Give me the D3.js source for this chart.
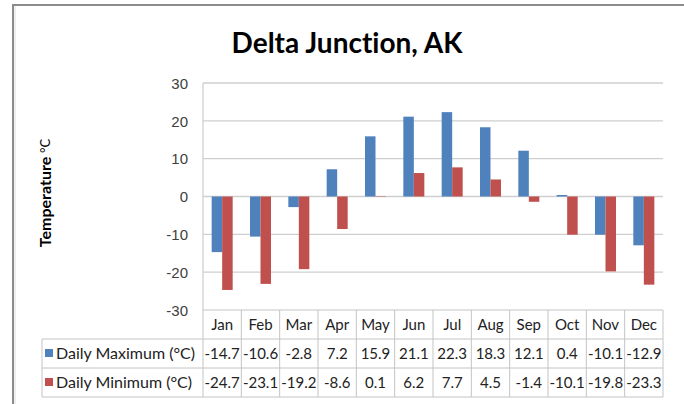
<!DOCTYPE html>
<html lang="en">
<head>
<meta charset="UTF-8">
<title>Delta Junction, AK</title>
<script src="https://d3js.org/d3.v7.min.js"></script>
<style>
    body { margin: 0; background: #fff; }
    svg { display: block; font-family: 'Lato', 'Open Sans', sans-serif; font-variant-ligatures: none; }
    .tick text { font-size: 15px; fill: #404040; }
    .cell { font-size: 15px; fill: #222; }
</style>
</head>
<body>
<svg id="chart"></svg>
<script>
// data
var months = ["Jan", "Feb", "Mar", "Apr", "May", "Jun", "Jul", "Aug", "Sep", "Oct", "Nov", "Dec"];
var maxTemps = [-14.7, -10.6, -2.8, 7.2, 15.9, 21.1, 22.3, 18.3, 12.1, 0.4, -10.1, -12.9];
var minTemps = [-24.7, -23.1, -19.2, -8.6, 0.1, 6.2, 7.7, 4.5, -1.4, -10.1, -19.8, -23.3];
var seriesNames = ["Daily Maximum (°C)", "Daily Minimum (°C)"];
var seriesColors = ["#4f81bd", "#c0504d"];
var yTicks = [-30, -20, -10, 0, 10, 20, 30];

var width = 684, height = 404;
var plotLeft = 203, plotRight = 663, plotTop = 83, plotBottom = 310;
var tableLeft = 42, rowH = 29;

var svg = d3.select("#chart")
    .attr("width", width)
    .attr("height", height);

svg.append("rect").attr("width", width).attr("height", height).attr("fill", "#fff");

// outer frame (top + left only)
svg.append("line").attr("x1", 12).attr("x2", width).attr("y1", 5).attr("y2", 5)
    .attr("stroke", "#8c8c8c").attr("stroke-width", 2);
svg.append("line").attr("x1", 13).attr("x2", 13).attr("y1", 5).attr("y2", height)
    .attr("stroke", "#8c8c8c").attr("stroke-width", 2);
svg.append("line").attr("x1", 15).attr("x2", 15).attr("y1", 6).attr("y2", height)
    .attr("stroke", "#e0e0e0").attr("stroke-width", 1);

var x = d3.scaleBand()
    .domain(months)
    .range([plotLeft, plotRight]);

var pairW = 21;
var x1 = d3.scaleBand()
    .domain([0, 1])
    .range([(x.bandwidth() - pairW) / 2, (x.bandwidth() + pairW) / 2]);

var y = d3.scaleLinear()
    .domain([-30, 30])
    .range([plotBottom, plotTop]);

// gridlines
svg.append("g").selectAll("line")
    .data(yTicks.slice(1))
    .enter().append("line")
    .attr("x1", plotLeft).attr("x2", plotRight)
    .attr("y1", d => y(d)).attr("y2", d => y(d))
    .attr("stroke", "#cfcfcf").attr("stroke-width", 1.3);

// y axis
var yAxis = svg.append("g")
    .attr("transform", "translate(" + (plotLeft - 15) + ",0)")
    .call(d3.axisLeft(y).tickValues(yTicks).tickSize(0).tickFormat(d => String(d)));
yAxis.select(".domain").remove();
yAxis.selectAll("text").attr("x", 0).attr("dy", "0.35em");

svg.append("line")
    .attr("x1", plotLeft).attr("x2", plotLeft)
    .attr("y1", plotTop).attr("y2", plotBottom)
    .attr("stroke", "#cfcfcf").attr("stroke-width", 1.3);

// bars
var series = [maxTemps, minTemps];
series.forEach(function (vals, s) {
    svg.append("g").selectAll("rect")
        .data(vals)
        .enter().append("rect")
        .attr("x", (d, i) => x(months[i]) + x1(s))
        .attr("width", x1.bandwidth())
        .attr("y", d => y(Math.max(0, d)))
        .attr("height", d => Math.abs(y(d) - y(0)))
        .attr("fill", seriesColors[s]);
});

// data table
var tbl = svg.append("g");
var gridCol = "#c4c4c4";
tbl.append("line").attr("x1", plotLeft).attr("x2", plotRight)
    .attr("y1", plotBottom).attr("y2", plotBottom).attr("stroke", gridCol);
for (var r = 1; r <= 3; r++) {
    tbl.append("line")
        .attr("x1", tableLeft).attr("x2", plotRight)
        .attr("y1", plotBottom + r * rowH).attr("y2", plotBottom + r * rowH)
        .attr("stroke", gridCol);
}
tbl.append("line").attr("x1", tableLeft).attr("x2", tableLeft)
    .attr("y1", plotBottom + rowH).attr("y2", plotBottom + 3 * rowH).attr("stroke", gridCol);
months.concat(["end"]).forEach(function (m, i) {
    var xx = i < months.length ? x(m) : plotRight;
    tbl.append("line").attr("x1", xx).attr("x2", xx)
        .attr("y1", plotBottom).attr("y2", plotBottom + 3 * rowH).attr("stroke", gridCol);
});

tbl.selectAll("text.month")
    .data(months)
    .enter().append("text")
    .attr("class", "cell month")
    .attr("x", d => x(d) + x.bandwidth() / 2)
    .attr("y", plotBottom + rowH / 2)
    .attr("dy", "0.35em")
    .attr("text-anchor", "middle")
    .text(d => d);

series.forEach(function (vals, s) {
    var cy = plotBottom + (s + 1) * rowH + rowH / 2;
    tbl.append("rect")
        .attr("x", tableLeft + 3).attr("y", cy - 4.5)
        .attr("width", 8).attr("height", 8)
        .attr("fill", seriesColors[s]);
    tbl.append("text")
        .attr("class", "cell")
        .attr("x", tableLeft + 14).attr("y", cy).attr("dy", "0.35em")
        .style("font-size", "16px")
        .text(seriesNames[s]);
    tbl.append("g").selectAll("text")
        .data(vals)
        .enter().append("text")
        .attr("class", "cell")
        .attr("x", (d, i) => x(months[i]) + x.bandwidth() / 2)
        .attr("y", cy).attr("dy", "0.35em")
        .attr("text-anchor", "middle")
        .text(d => d.toFixed(1));
});

// title
svg.append("text")
    .attr("x", 347).attr("y", 53)
    .attr("text-anchor", "middle")
    .style("font-size", "28px").style("font-weight", "bold").style("fill", "#000")
    .text("Delta Junction, AK");

// y axis title
var yt = svg.append("text")
    .attr("transform", "translate(51,193) rotate(-90)")
    .attr("text-anchor", "middle")
    .style("fill", "#000");
yt.append("tspan").style("font-size", "16px").style("font-weight", "bold").text("Temperature ");
yt.append("tspan").style("font-size", "13px").attr("dy", "-1").text("°C");
</script>
</body>
</html>
